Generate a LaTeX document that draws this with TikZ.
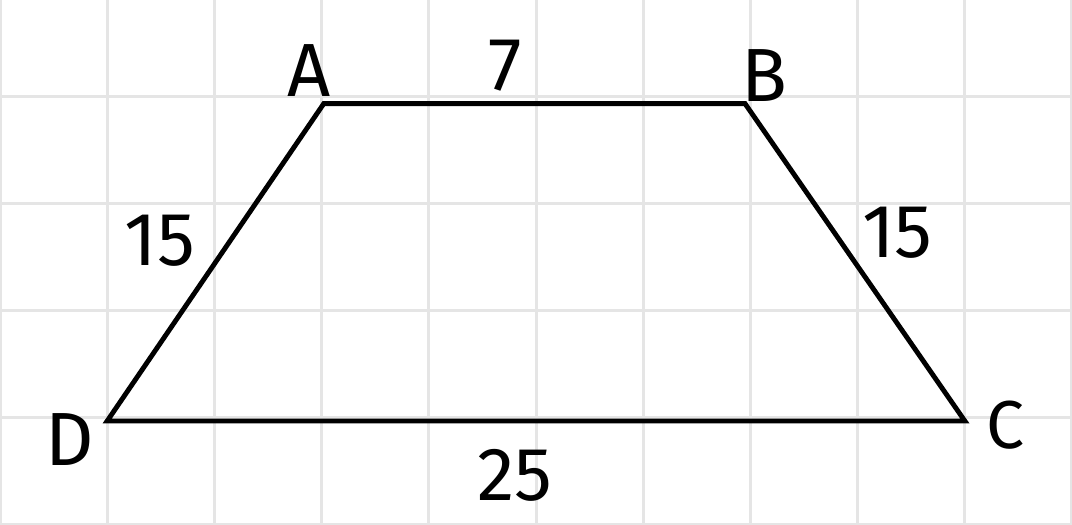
\documentclass[tikz,border=0pt]{standalone}
\usepackage{fontspec}
\setmainfont{Fira Sans}
\usepackage{tikz}

\begin{document}
\begin{tikzpicture}[
    gridline/.style={draw=black!10,line width=0.8pt},
    side/.style={line width=1.3pt,line join=miter},
    lbl/.style={inner sep=0pt,font=\fontsize{20}{22}\selectfont}
  ]
    \useasboundingbox (0,0) rectangle (10,4.897);
    \draw[gridline] (0,0) grid (10,4.897);
    % vertices
    \coordinate (D) at (1.0,0.97);
    \coordinate (C) at (9.0,0.97);
    \coordinate (B) at (6.95,3.93);
    \coordinate (A) at (3.02,3.93);
    \draw[side] (D) -- (C) -- (B) -- (A) -- cycle;
    \node[lbl] (labA) at (2.88,4.24) {A};
    \node[lbl] (labB) at (7.13,4.19) {B};
    \node[lbl,font=\fontsize{18}{20}\selectfont] (labC) at (9.38,0.93) {C};
    \node[lbl] (labD) at (0.65,0.80) {D};
    % lengths
    \node[lbl] (lenAB) at (4.71,4.28) {7};
    \node[lbl] (lenDC) at (4.80,0.46) {25};
    \node[lbl] (lenAD) at (1.49,2.65) {15};
    \node[lbl] (lenBC) at (8.37,2.73) {15};
  \end{tikzpicture}
\end{document}
